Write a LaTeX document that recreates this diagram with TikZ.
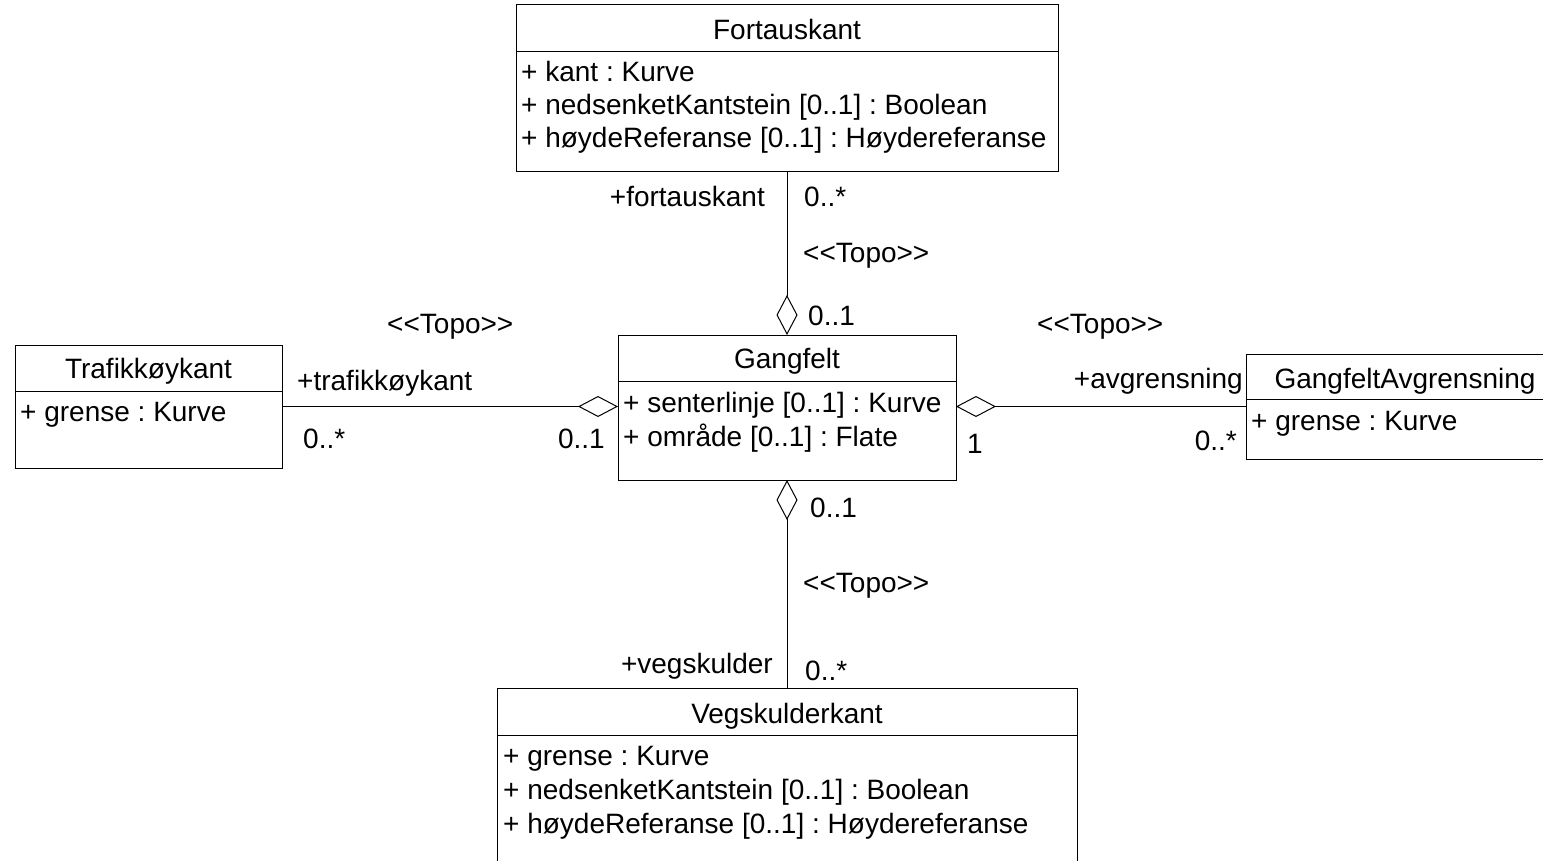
\documentclass[tikz,border=0pt]{standalone}
\usepackage{fontspec}
\newfontfamily\umlfont{Liberation Sans}
\usetikzlibrary{arrows.meta}
\frenchspacing

\begin{document}
\begin{tikzpicture}[x=1pt, y=-1pt,
    every node/.style={font=\umlfont\fontsize{28}{33}\selectfont, inner sep=0pt},
    box/.style={draw, line width=1pt, outer sep=0pt},
    sep/.style={line width=1pt},
    aggr/.style={line width=1pt, {Diamond[open, length=40pt, width=21pt]}-}]

    \useasboundingbox (0,0) rectangle (1543,861);

    % classes
    \node[box, minimum width=542pt, minimum height=167pt] (fort) at (787,88.5) {};
    \node[box, minimum width=338pt, minimum height=145pt] (gang) at (787,407.5) {};
    \node[box, minimum width=267pt, minimum height=123pt] (traf) at (148.5,406.5) {};
    \node[box, minimum width=318pt, minimum height=105pt] (avgr) at (1405,406.5) {};
    \node[box, minimum width=580pt, minimum height=192pt] (vegs) at (787,784) {};

    \draw[sep] (fort.west |- 0,52) -- (fort.east |- 0,52);
    \draw[sep] (gang.west |- 0,381) -- (gang.east |- 0,381);
    \draw[sep] (traf.west |- 0,391) -- (traf.east |- 0,391);
    \draw[sep] (avgr.west |- 0,399) -- (avgr.east |- 0,399);
    \draw[sep] (vegs.west |- 0,735) -- (vegs.east |- 0,735);

    \node[anchor=base] (fortname) at (787,40) {Fortauskant};
    \node[anchor=base west] (fort1) at (521,82) {+ kant : Kurve};
    \node[anchor=base west] (fort2) at (521,115) {+ nedsenketKantstein [0..1] : Boolean};
    \node[anchor=base west] (fort3) at (521,148) {+ høydeReferanse [0..1] : Høydereferanse};

    \node[anchor=base] (gangname) at (787,368) {Gangfelt};
    \node[anchor=base west] (gang1) at (623,412) {+ senterlinje [0..1] : Kurve};
    \node[anchor=base west] (gang2) at (623,446) {+ område [0..1] : Flate};

    \node[anchor=base] (trafname) at (148.5,378) {Trafikkøykant};
    \node[anchor=base west] (traf1) at (20,421) {+ grense : Kurve};

    \node[anchor=base] (avgrname) at (1405,388) {GangfeltAvgrensning};
    \node[anchor=base west] (avgr1) at (1251,430) {+ grense : Kurve};

    \node[anchor=base] (vegsname) at (787,723) {Vegskulderkant};
    \node[anchor=base west] (vegs1) at (503,765) {+ grense : Kurve};
    \node[anchor=base west] (vegs2) at (503,799) {+ nedsenketKantstein [0..1] : Boolean};
    \node[anchor=base west] (vegs3) at (503,833) {+ høydeReferanse [0..1] : Høydereferanse};

    % associations
    \draw[aggr] (gang.north) -- (fort.south);
    \draw[aggr] (gang.south) -- (vegs.north);
    \draw[aggr] (gang.west |- traf.east) -- (traf.east);
    \draw[aggr] (gang.east |- avgr.west) -- (avgr.west);

    % roles, multiplicities, stereotypes
    \node[anchor=base east] (rfort) at (765,207) {+fortauskant};
    \node[anchor=base west] (mfort) at (804,207) {0..*};
    \node[anchor=base west] (stopo) at (803,263) {<<Topo>>};
    \node[anchor=base west] (mgangn) at (808,325) {0..1};

    \node[anchor=base west] (ltopo) at (387,334) {<<Topo>>};
    \node[anchor=base west] (rtraf) at (297,390) {+trafikkøykant};
    \node[anchor=base west] (mtraf) at (303,448) {0..*};
    \node[anchor=base east] (mgangw) at (605,448) {0..1};

    \node[anchor=base west] (rtopo) at (1037,333) {<<Topo>>};
    \node[anchor=base east] (ravgr) at (1243,388) {+avgrensning};
    \node[anchor=base east] (mavgr) at (1237,450) {0..*};
    \node[anchor=base west] (mgange) at (967,453) {1};

    \node[anchor=base west] (mgangs) at (810,517) {0..1};
    \node[anchor=base west] (btopo) at (803,592) {<<Topo>>};
    \node[anchor=base east] (rvegs) at (773,673) {+vegskulder};
    \node[anchor=base west] (mvegs) at (805,680) {0..*};
\end{tikzpicture}
\end{document}
